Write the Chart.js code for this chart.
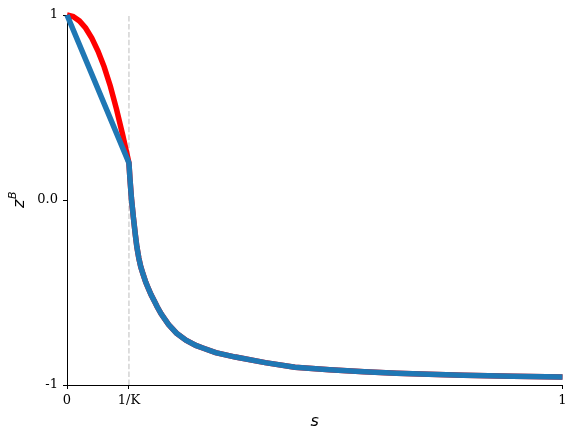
<!DOCTYPE html>
<html>
<head>
<meta charset="utf-8">
<script src="https://cdn.jsdelivr.net/npm/chart.js@4/dist/chart.umd.min.js"></script>
<style>
  html, body { margin: 0; padding: 0; background: #fff; }
  #wrap { width: 577px; height: 441px; }
</style>
</head>
<body>
<div id="wrap"><canvas id="zChart" width="577" height="441"></canvas></div>
<script>
// values
const invK = 0.125;

// s from 0 up to 1/K, red curve
const sHead = [0, 0.0125, 0.025, 0.0375, 0.05, 0.0625, 0.075, 0.0875, 0.1, 0.1125, 0.125];
const zRedHead = [1.0, 0.992, 0.968, 0.93, 0.875, 0.805, 0.72, 0.615, 0.49, 0.35, 0.2];

// blue curve is a straight segment up to 1/K
const sBlueHead = [0, 0.125];
const zBlueHead = [1.0, 0.2];

// both curves share the tail after 1/K
const sTail = [0.127, 0.13, 0.134, 0.138, 0.141, 0.145, 0.149, 0.154, 0.159, 0.164, 0.17, 0.177,
  0.182, 0.19, 0.205, 0.221, 0.24, 0.26, 0.274, 0.3, 0.34, 0.4, 0.46, 0.53, 0.6, 0.665, 0.73,
  0.8, 0.9, 1.0];
const zTail = [0.117, 0.01, -0.095, -0.19, -0.253, -0.315, -0.363, -0.405, -0.445, -0.477, -0.514, -0.55,
  -0.577, -0.615, -0.673, -0.72, -0.758, -0.786, -0.8, -0.825, -0.849, -0.879, -0.904, -0.918, -0.928,
  -0.936, -0.942, -0.947, -0.953, -0.957];

// dashed marker at s = 1/K
const kLineY = [-1, 1];

const xTickValues = [0, invK, 1];
const xTickLabels = ["0", "1/K", "1"];
const yTickValues = [-1, 0, 1];
const yTickLabels = ["-1", "0.0", "1"];

function toPoints(xs, ys) {
  return xs.map((x, i) => ({ x: x, y: ys[i] }));
}

function tickLabel(values, labels, v) {
  const i = values.findIndex((t) => Math.abs(t - v) < 1e-9);
  return i >= 0 ? labels[i] : "";
}

const redData = toPoints(sHead, zRedHead).concat(toPoints(sTail, zTail));
const blueData = toPoints(sBlueHead, zBlueHead).concat(toPoints(sTail, zTail));
const kLineData = kLineY.map((y) => ({ x: invK, y: y }));

// axis titles, z has a superscript B
const axisTitles = {
  id: "axisTitles",
  afterDraw(chart) {
    const ctx = chart.ctx;
    const area = chart.chartArea;
    ctx.save();
    ctx.fillStyle = "#000";
    ctx.textAlign = "center";
    ctx.textBaseline = "middle";
    ctx.font = "italic 16px 'DejaVu Sans'";
    ctx.fillText("s", (area.left + area.right) / 2, 422);

    ctx.translate(19, (area.top + area.bottom) / 2);
    ctx.rotate(-Math.PI / 2);
    ctx.textAlign = "left";
    ctx.textBaseline = "alphabetic";
    ctx.font = "italic 11px 'DejaVu Sans'";
    const bw = ctx.measureText("B").width;
    ctx.font = "italic 16px 'DejaVu Sans'";
    const zw = ctx.measureText("z").width;
    const x0 = -(zw + bw) / 2;
    ctx.fillText("z", x0, 5);
    ctx.font = "italic 11px 'DejaVu Sans'";
    ctx.fillText("B", x0 + zw + 0.5, -3);
    ctx.restore();
  },
};

const tickFont = { family: "'DejaVu Serif'", size: 13 };

new Chart(document.getElementById("zChart"), {
  type: "line",
  data: {
    datasets: [
      {
        data: blueData,
        borderColor: "#1f77b4",
        borderWidth: 5.5,
        pointRadius: 0,
        tension: 0,
        clip: false,
        order: 0,
      },
      {
        data: redData,
        borderColor: "#ff0000",
        borderWidth: 5.5,
        pointRadius: 0,
        tension: 0,
        clip: false,
        order: 1,
      },
      {
        data: kLineData,
        borderColor: "#d3d3d3",
        borderWidth: 1.5,
        borderDash: [5.5, 2.4],
        pointRadius: 0,
        order: 2,
      },
    ],
  },
  options: {
    responsive: false,
    animation: false,
    layout: { padding: { top: 15, right: 14.5, bottom: 0, left: 0 } },
    plugins: {
      legend: { display: false },
      tooltip: { enabled: false },
    },
    scales: {
      x: {
        type: "linear",
        min: 0,
        max: 1,
        afterBuildTicks: (scale) => {
          scale.ticks = xTickValues.map((v) => ({ value: v }));
        },
        afterFit: (scale) => {
          scale.height = 56;
        },
        ticks: {
          color: "#000",
          font: tickFont,
          padding: 4,
          maxRotation: 0,
          autoSkip: false,
          callback: (v) => tickLabel(xTickValues, xTickLabels, v),
        },
        grid: { drawOnChartArea: false, color: "#000", tickLength: 4 },
        border: { color: "#000", width: 1 },
      },
      y: {
        type: "linear",
        min: -1,
        max: 1,
        afterBuildTicks: (scale) => {
          scale.ticks = yTickValues.map((v) => ({ value: v }));
        },
        afterFit: (scale) => {
          scale.width = 67;
        },
        ticks: {
          color: "#000",
          font: tickFont,
          padding: 5,
          autoSkip: false,
          callback: (v) => tickLabel(yTickValues, yTickLabels, v),
        },
        grid: { drawOnChartArea: false, color: "#000", tickLength: 4 },
        border: { color: "#000", width: 1 },
      },
    },
  },
  plugins: [axisTitles],
});
</script>
</body>
</html>
